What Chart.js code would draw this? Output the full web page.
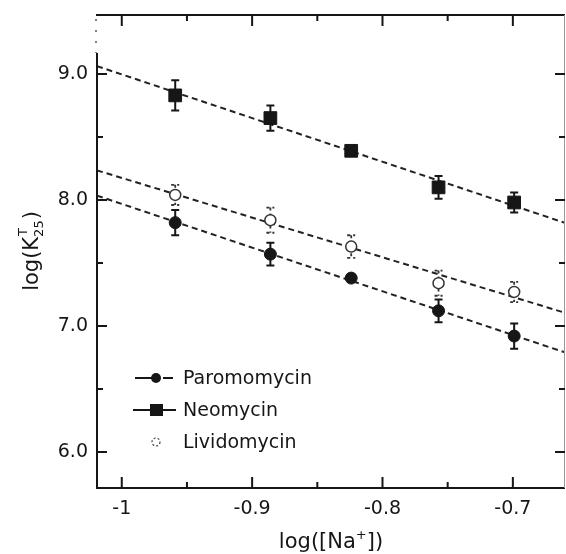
<!DOCTYPE html>
<html>
<head>
<meta charset="utf-8">
<script src="https://cdn.jsdelivr.net/npm/chart.js@4.4.0/dist/chart.umd.min.js"></script>
<style>
  html, body { margin: 0; padding: 0; background: #fff; }
  #wrap { width: 566px; height: 554px; }
</style>
</head>
<body>
<div id="wrap"><canvas id="chart1" width="566" height="554"></canvas></div>
<script>
// log of the sodium concentration at each point
var logNa = [-0.959, -0.886, -0.824, -0.757, -0.699];

// log(K) per drug, with error bars
var paromomycin = [7.82, 7.57, 7.38, 7.12, 6.92];
var paromomycinErr = [0.10, 0.09, 0.03, 0.09, 0.10];
var neomycin = [8.83, 8.65, 8.39, 8.10, 7.98];
var neomycinErr = [0.12, 0.10, 0.04, 0.09, 0.08];
var lividomycin = [8.04, 7.84, 7.63, 7.34, 7.27];
var lividomycinErr = [0.08, 0.10, 0.09, 0.10, 0.08];

// axis ticks
var xTicks = [-1, -0.9, -0.8, -0.7];
var xTickLabels = ["-1", "-0.9", "-0.8", "-0.7"];
var xMinor = [-0.95, -0.85, -0.75];
var yTicks = [6, 7, 8, 9];
var yTickLabels = ["6.0", "7.0", "8.0", "9.0"];
var yMinor = [6.5, 7.5, 8.5];

var xMin = -1.019, xMax = -0.66;
var yMin = 5.714, yMax = 9.468;

var FONT = "DejaVu Sans";
var INK = "#161616";

function points(ys, errs) {
  return ys.map(function (y, i) { return { x: logNa[i], y: y, err: errs[i] }; });
}

// least squares line, evaluated at both ends of the x range
function fitLine(ys) {
  var n = ys.length, sx = 0, sy = 0, sxx = 0, sxy = 0;
  for (var i = 0; i < n; i++) {
    sx += logNa[i]; sy += ys[i];
    sxx += logNa[i] * logNa[i]; sxy += logNa[i] * ys[i];
  }
  var b = (n * sxy - sx * sy) / (n * sxx - sx * sx);
  var a = (sy - b * sx) / n;
  return [{ x: xMin, y: a + b * xMin }, { x: xMax, y: a + b * xMax }];
}

function fitDataset(ys) {
  return {
    data: fitLine(ys), showLine: true, pointRadius: 0,
    borderColor: "#222", borderWidth: 2, borderDash: [6, 4], order: 5
  };
}

// vertical error bars with caps, drawn under the markers
var errorBars = {
  id: "errorBars",
  beforeDatasetsDraw: function (chart) {
    var ctx = chart.ctx, ys = chart.scales.y, xs = chart.scales.x;
    chart.data.datasets.forEach(function (ds) {
      if (!ds.errorStyle) return;
      ctx.save();
      ctx.strokeStyle = ds.errorStyle.color;
      ctx.lineWidth = ds.errorStyle.width;
      ctx.setLineDash(ds.errorStyle.dash || []);
      ds.data.forEach(function (p) {
        var px = xs.getPixelForValue(p.x);
        var top = ys.getPixelForValue(p.y + p.err);
        var bot = ys.getPixelForValue(p.y - p.err);
        ctx.beginPath();
        ctx.moveTo(px, top); ctx.lineTo(px, bot);
        ctx.moveTo(px - 4, top); ctx.lineTo(px + 4, top);
        ctx.moveTo(px - 4, bot); ctx.lineTo(px + 4, bot);
        ctx.stroke();
      });
      ctx.restore();
    });
  }
};

// box frame with inward ticks on all four sides
var frame = {
  id: "frame",
  afterDatasetsDraw: function (chart) {
    var ctx = chart.ctx, a = chart.chartArea, xs = chart.scales.x, ys = chart.scales.y;
    ctx.save();
    ctx.strokeStyle = INK;
    ctx.lineWidth = 2;
    ctx.beginPath();
    ctx.moveTo(a.left - 1, a.top); ctx.lineTo(a.right, a.top);
    ctx.moveTo(a.left - 1, a.bottom); ctx.lineTo(a.right, a.bottom);
    ctx.moveTo(a.left, a.top + 38); ctx.lineTo(a.left, a.bottom);
    ctx.stroke();
    // broken stretch at the top of the left axis
    ctx.strokeStyle = "#555";
    ctx.lineWidth = 1.5;
    ctx.setLineDash([2, 9]);
    ctx.beginPath();
    ctx.moveTo(a.left - 1, a.top + 4); ctx.lineTo(a.left - 1, a.top + 38);
    ctx.stroke();
    ctx.setLineDash([]);
    ctx.strokeStyle = "#999";
    ctx.lineWidth = 1;
    ctx.beginPath();
    ctx.moveTo(a.right - 0.5, a.top); ctx.lineTo(a.right - 0.5, a.bottom);
    ctx.stroke();

    ctx.strokeStyle = INK;
    ctx.lineWidth = 2;
    ctx.beginPath();
    function xt(v, len) {
      var px = xs.getPixelForValue(v);
      ctx.moveTo(px, a.bottom); ctx.lineTo(px, a.bottom - len);
      ctx.moveTo(px, a.top); ctx.lineTo(px, a.top + len);
    }
    function yt(v, len) {
      var py = ys.getPixelForValue(v);
      ctx.moveTo(a.left, py); ctx.lineTo(a.left + len, py);
      ctx.moveTo(a.right, py); ctx.lineTo(a.right - len, py);
    }
    xTicks.forEach(function (v) { xt(v, 11); });
    xMinor.forEach(function (v) { xt(v, 6); });
    yTicks.forEach(function (v) { yt(v, 10); });
    yMinor.forEach(function (v) { yt(v, 6); });
    ctx.stroke();
    ctx.restore();
  }
};

// axis titles with sub/superscripts
var titles = {
  id: "titles",
  afterDraw: function (chart) {
    var ctx = chart.ctx, a = chart.chartArea;
    ctx.save();
    ctx.fillStyle = INK;
    ctx.textBaseline = "alphabetic";

    // x title: log([Na+])
    var big = "21px " + FONT, small = "13px " + FONT;
    ctx.font = big;
    var w1 = ctx.measureText("log([Na").width;
    var w3 = ctx.measureText("])").width;
    ctx.font = small;
    var w2 = ctx.measureText("+").width;
    var x0 = (a.left + a.right) / 2 - (w1 + w2 + w3) / 2, yb = 548;
    ctx.font = big; ctx.fillText("log([Na", x0, yb);
    ctx.font = small; ctx.fillText("+", x0 + w1, yb - 9);
    ctx.font = big; ctx.fillText("])", x0 + w1 + w2, yb);

    // y title: log(K^T_25), rotated
    ctx.font = big;
    var v1 = ctx.measureText("log(K").width;
    var v3 = ctx.measureText(")").width;
    ctx.font = small;
    var v2 = ctx.measureText("25").width;
    var total = v1 + v2 + v3;
    ctx.translate(38, (a.top + a.bottom) / 2 + total / 2);
    ctx.rotate(-Math.PI / 2);
    ctx.font = big; ctx.fillText("log(K", 0, 0);
    ctx.font = small;
    ctx.fillText("T", v1 + 1, -11);
    ctx.fillText("25", v1, 5);
    ctx.font = big; ctx.fillText(")", v1 + v2 + 1, 0);
    ctx.restore();
  }
};

// legend in the lower left of the plot
var legendBox = {
  id: "legendBox",
  afterDraw: function (chart) {
    var ctx = chart.ctx;
    ctx.save();
    ctx.font = "19px " + FONT;
    ctx.fillStyle = INK;
    ctx.textBaseline = "middle";
    var rows = [
      { label: "Paromomycin", y: 378, style: "circle" },
      { label: "Neomycin", y: 410, style: "rect" },
      { label: "Lividomycin", y: 442, style: "open" }
    ];
    rows.forEach(function (r) {
      ctx.strokeStyle = INK;
      ctx.lineWidth = 2;
      if (r.style === "circle") {
        ctx.beginPath();
        ctx.moveTo(135, r.y); ctx.lineTo(158, r.y);
        ctx.moveTo(163, r.y); ctx.lineTo(173, r.y);
        ctx.stroke();
      } else if (r.style === "rect") {
        ctx.beginPath();
        ctx.moveTo(133, r.y); ctx.lineTo(176, r.y);
        ctx.stroke();
      }
      ctx.fillStyle = INK;
      if (r.style === "circle") {
        ctx.beginPath(); ctx.arc(156, r.y, 5, 0, Math.PI * 2); ctx.fill();
      } else if (r.style === "rect") {
        ctx.fillRect(150, r.y - 6, 13, 12);
      } else {
        ctx.strokeStyle = "#444";
        ctx.lineWidth = 1.2;
        ctx.setLineDash([2, 2]);
        ctx.beginPath(); ctx.arc(156, r.y, 4, 0, Math.PI * 2); ctx.stroke();
        ctx.setLineDash([]);
      }
      ctx.fillStyle = INK;
      ctx.fillText(r.label, 183, r.y + 1);
    });
    ctx.restore();
  }
};

var ctx1 = document.getElementById("chart1").getContext("2d");
var myChart = new Chart(ctx1, {
  type: "scatter",
  data: {
    datasets: [
      fitDataset(paromomycin),
      fitDataset(neomycin),
      fitDataset(lividomycin),
      {
        label: "Paromomycin", data: points(paromomycin, paromomycinErr),
        pointStyle: "circle", pointRadius: 6,
        backgroundColor: INK, borderColor: INK, borderWidth: 1,
        errorStyle: { color: INK, width: 2 }, order: 1
      },
      {
        label: "Neomycin", data: points(neomycin, neomycinErr),
        pointStyle: "rect", pointRadius: 9,
        backgroundColor: INK, borderColor: INK, borderWidth: 1,
        errorStyle: { color: INK, width: 2 }, order: 1
      },
      {
        label: "Lividomycin", data: points(lividomycin, lividomycinErr),
        pointStyle: "circle", pointRadius: 5.5,
        backgroundColor: "#fff", borderColor: "#333", borderWidth: 1.5,
        errorStyle: { color: "#333", width: 1.8, dash: [3, 3] }, order: 1
      }
    ]
  },
  options: {
    responsive: false,
    animation: false,
    layout: { autoPadding: false, padding: { left: 0, right: 1, top: 15, bottom: 0 } },
    plugins: { legend: { display: false }, tooltip: { enabled: false } },
    scales: {
      x: {
        type: "linear", min: xMin, max: xMax,
        grid: { display: false, drawTicks: false },
        border: { display: false },
        afterBuildTicks: function (s) { s.ticks = xTicks.map(function (v) { return { value: v }; }); },
        afterFit: function (s) { s.height = 66; s.paddingLeft = 0; s.paddingRight = 0; },
        ticks: {
          padding: 10, color: INK, font: { family: FONT, size: 19 },
          callback: function (v) { return xTickLabels[xTicks.indexOf(v)]; }
        }
      },
      y: {
        type: "linear", min: yMin, max: yMax,
        grid: { display: false, drawTicks: false },
        border: { display: false },
        afterBuildTicks: function (s) { s.ticks = yTicks.map(function (v) { return { value: v }; }); },
        afterFit: function (s) { s.width = 97; s.paddingTop = 0; s.paddingBottom = 0; },
        ticks: {
          padding: 9, color: INK, font: { family: FONT, size: 19 },
          callback: function (v) { return yTickLabels[yTicks.indexOf(v)]; }
        }
      }
    }
  },
  plugins: [errorBars, frame, titles, legendBox]
});
</script>
</body>
</html>
